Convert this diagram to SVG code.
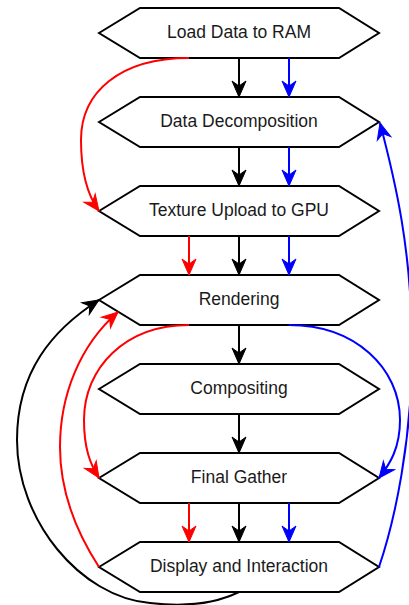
<svg xmlns="http://www.w3.org/2000/svg" width="409" height="605" viewBox="0 0 409 605">
<style>
.node polygon{fill:#fff;stroke:#000;stroke-width:2}
.node text{font-family:"Liberation Sans",Arial,sans-serif;font-size:17.5px;fill:#1a1a1a;text-anchor:middle}
.e{fill:none;stroke-width:2}
.k{stroke:#000}
.r{stroke:#ff0000}
.b{stroke:#0000ff}
</style>
<defs>
<marker id="ak" markerUnits="userSpaceOnUse" markerWidth="20" markerHeight="16" refX="16" refY="7" orient="auto" overflow="visible"><path d="M0,0 L16,7 L0,14 L5,7 Z" fill="#000" stroke="#000" stroke-width="1"/></marker>
<marker id="ar" markerUnits="userSpaceOnUse" markerWidth="20" markerHeight="16" refX="16" refY="7" orient="auto" overflow="visible"><path d="M0,0 L16,7 L0,14 L5,7 Z" fill="#ff0000" stroke="#ff0000" stroke-width="1"/></marker>
<marker id="ab" markerUnits="userSpaceOnUse" markerWidth="20" markerHeight="16" refX="16" refY="7" orient="auto" overflow="visible"><path d="M0,0 L16,7 L0,14 L5,7 Z" fill="#0000ff" stroke="#0000ff" stroke-width="1"/></marker>
</defs>
<rect width="409" height="605" fill="#fff"/>
<g id="n1" class="node"><polygon points="99,33 140,8 339,8 379,33 339,58 140,58"/><text x="239" y="38">Load Data to RAM</text></g>
<g id="n2" class="node"><polygon points="99,122 140,97 339,97 379,122 339,147 140,147"/><text x="239" y="127">Data Decomposition</text></g>
<g id="n3" class="node"><polygon points="99,211 140,186 339,186 379,211 339,236 140,236"/><text x="239" y="216">Texture Upload to GPU</text></g>
<g id="n4" class="node"><polygon points="99,300 140,275 339,275 379,300 339,325 140,325"/><text x="239" y="305">Rendering</text></g>
<g id="n5" class="node"><polygon points="99,389 140,364 339,364 379,389 339,414 140,414"/><text x="239" y="394">Compositing</text></g>
<g id="n6" class="node"><polygon points="99,478 140,453 339,453 379,478 339,503 140,503"/><text x="239" y="483">Final Gather</text></g>
<g id="n7" class="node"><polygon points="99,567 140,542 339,542 379,567 339,592 140,592"/><text x="239" y="572">Display and Interaction</text></g>
<g id="edges">
<path class="e k" d="M239,58 V97" marker-end="url(#ak)"/>
<path class="e b" d="M289,58 V97" marker-end="url(#ab)"/>
<path class="e k" d="M239,147 V186" marker-end="url(#ak)"/>
<path class="e b" d="M289,147 V186" marker-end="url(#ab)"/>
<path class="e r" d="M189,236 V275" marker-end="url(#ar)"/>
<path class="e k" d="M239,236 V275" marker-end="url(#ak)"/>
<path class="e b" d="M289,236 V275" marker-end="url(#ab)"/>
<path class="e k" d="M239,325 V364" marker-end="url(#ak)"/>
<path class="e k" d="M239,414 V453" marker-end="url(#ak)"/>
<path class="e r" d="M189,503 V542" marker-end="url(#ar)"/>
<path class="e k" d="M239,503 V542" marker-end="url(#ak)"/>
<path class="e b" d="M289,503 V542" marker-end="url(#ab)"/>
<path class="e r" d="M189,58 C120,58 81,92 81,140 C81,175 88,196 99,211" marker-end="url(#ar)"/>
<path class="e b" d="M379,567 C395,520 412,440 412,350 C412,250 395,180 380,123" marker-end="url(#ab)"/>
<path class="e r" d="M189,325 C125,325 84,368 84,420 C84,448 90,464 99,478" marker-end="url(#ar)"/>
<path class="e b" d="M289,325 C355,325 400,368 400,420 C400,448 390,464 379,478" marker-end="url(#ab)"/>
<path class="e r" d="M99,567 C75,530 60,490 60,447 C60,395 80,345 118,312" marker-end="url(#ar)"/>
<path class="e k" d="M239,592 C215,604 185,607 150,603 C80,597 17,520 17,440 C17,372 52,330 99,300" marker-end="url(#ak)"/>
</g>
</svg>
